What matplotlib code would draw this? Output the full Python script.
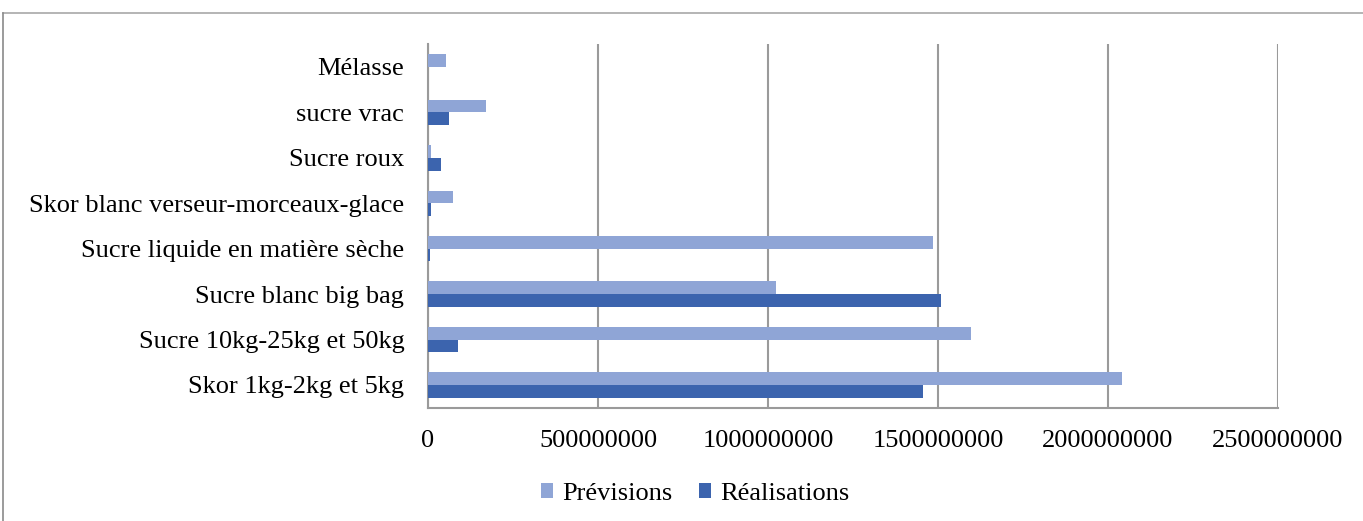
import matplotlib.pyplot as plt
import numpy as np
from matplotlib.lines import Line2D

# Produits, du bas vers le haut du graphique
produits = [
    "Skor 1kg-2kg et 5kg",
    "Sucre 10kg-25kg et 50kg",
    "Sucre blanc big bag",
    "Sucre liquide en matière sèche",
    "Skor blanc verseur-morceaux-glace",
    "Sucre roux",
    "sucre vrac",
    "Mélasse",
]
previsions = [2042000000, 1598000000, 1023000000, 1485000000, 73000000, 10000000, 172000000, 53000000]
realisations = [1455000000, 88000000, 1510000000, 6000000, 10000000, 37000000, 62000000, 0]
ticks_x = [0, 500000000, 1000000000, 1500000000, 2000000000, 2500000000]

plt.rcParams['font.family'] = ['Liberation Serif', 'DejaVu Serif']

fig = plt.figure(figsize=(13.63, 5.21), dpi=100)
ax = fig.add_axes([0.3140, 0.2175, 0.6236, 0.6975])

y = np.arange(len(produits))
h = 0.28
ax.barh(y + h / 2, previsions, height=h, color="#8fa5d6", label="Prévisions", zorder=3)
ax.barh(y - h / 2, realisations, height=h, color="#3c64ae", label="Réalisations", zorder=3)

ax.set_xlim(0, 2500000000)
ax.set_ylim(-0.5, len(produits) - 0.5)
ax.set_xticks(ticks_x)
ax.set_xticklabels([str(t) for t in ticks_x])
ax.set_yticks(y)
ax.set_yticklabels(produits)
ax.tick_params(axis="both", length=0, labelsize=19, colors="black")
ax.tick_params(axis="y", pad=17)
ax.tick_params(axis="x", pad=16)

ax.grid(axis="x", color="#9a9a9a", linewidth=1.5, zorder=0)
for side in ["top", "right"]:
    ax.spines[side].set_visible(False)
ax.spines["left"].set_color("#9a9a9a")
ax.spines["left"].set_linewidth(1.5)
ax.spines["bottom"].set_color("#9a9a9a")
ax.spines["bottom"].set_linewidth(1.5)

fig.legend(loc="center", bbox_to_anchor=(0.5103, 0.052), ncol=2, frameon=False,
           fontsize=19, handlelength=0.45, handleheight=0.45, handletextpad=0.35,
           columnspacing=1.0)

# cadre du graphique
fig.add_artist(Line2D([3 / 1363, 1], [1 - 13 / 521, 1 - 13 / 521], color="#a8a8a8", linewidth=1.2))
fig.add_artist(Line2D([3 / 1363, 3 / 1363], [0, 1 - 13 / 521], color="#8a8a8a", linewidth=1.2))

fig.savefig("out.png", dpi=100)
